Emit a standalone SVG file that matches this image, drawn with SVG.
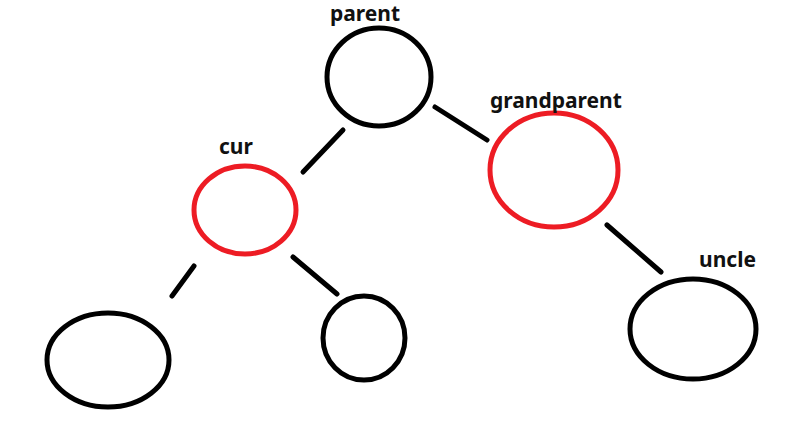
<svg xmlns="http://www.w3.org/2000/svg" width="788" height="421" viewBox="0 0 788 421">
<style>
.n{fill:none;stroke-width:5}
.b{stroke:#000}
.r{stroke:#ed1c24}
.t{font-family:"Noto Sans","Open Sans",sans-serif;font-weight:bold;font-size:21px;fill:#111}
.e{stroke:#000;stroke-width:5;stroke-linecap:round}
</style>
<rect width="788" height="421" fill="#fff"/>
<g id="edges">
<line class="e" x1="343" y1="130" x2="303" y2="172"/>
<line class="e" x1="435" y1="107" x2="487" y2="140"/>
<line class="e" x1="607" y1="225" x2="661" y2="272"/>
<line class="e" x1="194" y1="266" x2="172" y2="296"/>
<line class="e" x1="293" y1="257" x2="337" y2="294"/>
</g>
<g id="parent"><ellipse class="n b" cx="379" cy="77" rx="52" ry="49"/><text class="t" x="330" y="21">parent</text></g>
<g id="grandparent"><ellipse class="n r" cx="554" cy="170" rx="64" ry="57"/><text class="t" x="490" y="108">grandparent</text></g>
<g id="cur"><ellipse class="n r" cx="245" cy="210" rx="51" ry="44"/><text class="t" x="219" y="154">cur</text></g>
<g id="leftleaf"><ellipse class="n b" cx="108" cy="360" rx="61" ry="47"/></g>
<g id="midleaf"><ellipse class="n b" cx="364" cy="338" rx="41" ry="42"/></g>
<g id="uncle"><ellipse class="n b" cx="693" cy="329" rx="63" ry="50"/><text class="t" x="699" y="267">uncle</text></g>
</svg>
